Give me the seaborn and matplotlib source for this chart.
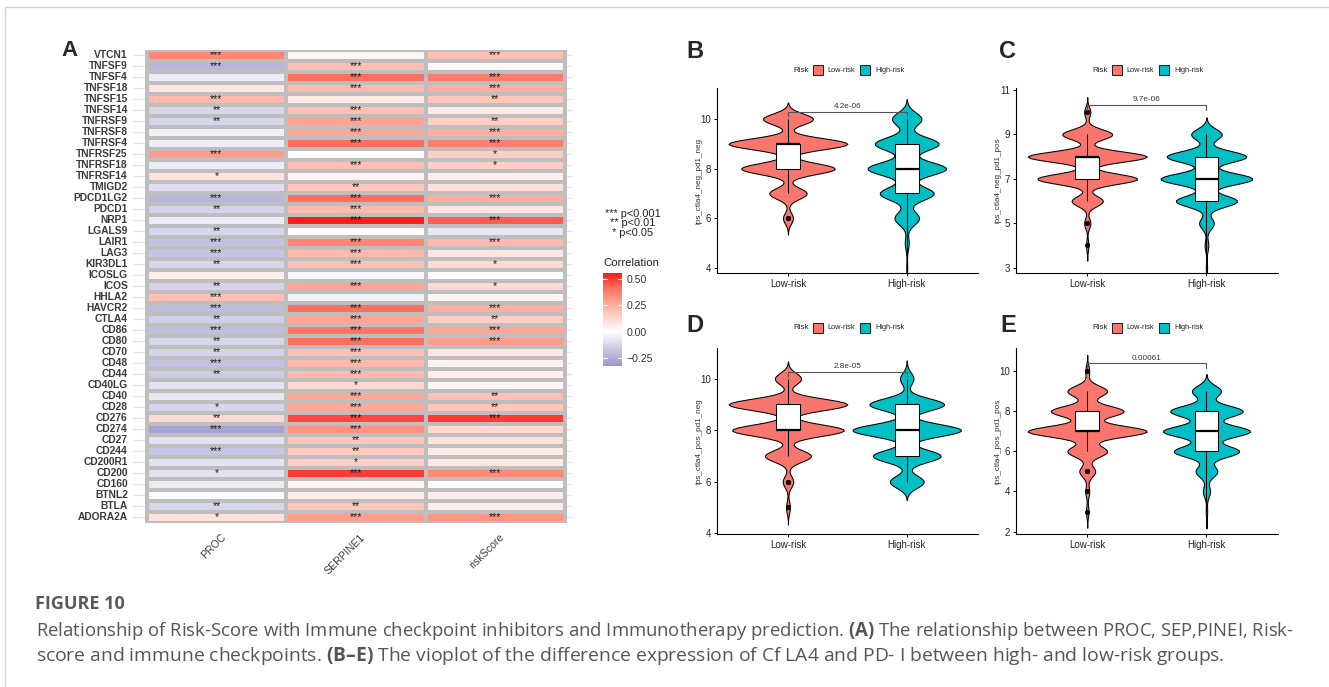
import numpy as np
import pandas as pd
import matplotlib
matplotlib.use("Agg")
import matplotlib.pyplot as plt
import matplotlib.transforms as mtransforms
from matplotlib.colors import LinearSegmentedColormap
from matplotlib.patches import Rectangle
from matplotlib.lines import Line2D
from matplotlib.ticker import FuncFormatter
import seaborn as sns

# ---------------- heatmap data (panel A) ----------------
genes = ["VTCN1", "TNFSF9", "TNFSF4", "TNFSF18", "TNFSF15", "TNFSF14", "TNFRSF9",
         "TNFRSF8", "TNFRSF4", "TNFRSF25", "TNFRSF18", "TNFRSF14", "TMIGD2", "PDCD1LG2",
         "PDCD1", "NRP1", "LGALS9", "LAIR1", "LAG3", "KIR3DL1", "ICOSLG", "ICOS", "HHLA2",
         "HAVCR2", "CTLA4", "CD86", "CD80", "CD70", "CD48", "CD44", "CD40LG", "CD40", "CD28",
         "CD276", "CD274", "CD27", "CD244", "CD200R1", "CD200", "CD160", "BTNL2", "BTLA",
         "ADORA2A"]
heat_cols = ["PROC", "SERPINE1", "riskScore"]
proc_r = [0.36, -0.22, -0.05, 0.08, 0.22, -0.12, -0.12, -0.04, -0.05, 0.30, -0.05, 0.10,
          -0.10, -0.22, -0.13, -0.05, -0.12, -0.18, -0.17, -0.12, 0.05, -0.13, 0.20, -0.20,
          -0.14, -0.19, -0.12, -0.13, -0.18, -0.15, -0.09, -0.07, -0.12, 0.12, -0.28, -0.09,
          -0.17, -0.08, -0.09, -0.06, -0.01, -0.12, 0.10]
serpine1_r = [0.03, 0.20, 0.42, 0.22, 0.07, 0.20, 0.28, 0.27, 0.42, 0.00, 0.20, 0.04,
              0.18, 0.42, 0.22, 0.55, 0.01, 0.36, 0.22, 0.20, -0.02, 0.28, -0.04, 0.42,
              0.28, 0.40, 0.42, 0.20, 0.22, 0.22, 0.12, 0.27, 0.27, 0.48, 0.33, 0.18,
              0.17, 0.15, 0.50, 0.03, 0.06, 0.18, 0.30]
riskscore_r = [0.20, 0.02, 0.38, 0.25, 0.18, 0.07, 0.15, 0.25, 0.38, 0.16, 0.15, 0.05,
               0.10, 0.25, 0.08, 0.45, -0.07, 0.22, 0.08, 0.12, 0.00, 0.12, 0.03, 0.25,
               0.15, 0.27, 0.30, 0.08, 0.04, 0.06, 0.03, 0.20, 0.18, 0.50, 0.12, 0.10,
               0.06, 0.08, 0.35, 0.01, 0.06, 0.06, 0.32]
proc_sig = ["***", "***", "", "", "***", "**", "**", "", "", "***", "", "*", "", "***",
            "**", "", "**", "***", "***", "**", "", "**", "***", "***", "**", "***", "**",
            "**", "***", "**", "", "", "*", "**", "***", "", "***", "", "*", "", "", "**", "*"]
serpine1_sig = ["", "***", "***", "***", "", "***", "***", "***", "***", "", "***", "",
                "**", "***", "***", "***", "", "***", "***", "***", "", "***", "", "***",
                "***", "***", "***", "***", "***", "***", "*", "***", "***", "***", "***",
                "**", "**", "*", "***", "", "", "**", "***"]
riskscore_sig = ["***", "", "***", "***", "**", "", "**", "***", "***", "*", "*", "", "",
                 "***", "", "***", "", "***", "", "*", "", "*", "", "***", "**", "***",
                 "***", "", "", "", "", "**", "**", "***", "", "", "", "", "***", "", "",
                 "", "***"]
corr_limits = [-0.323, 0.554]
cbar_ticks = [-0.25, 0.0, 0.25, 0.50]
sig_legend = ["*** p<0.001", "** p<0.01", "* p<0.05"]

# ---------------- violin data (panels B-E): counts of integer IPS scores ----------------
groups = ["Low-risk", "High-risk"]
b_levels = [4, 5, 6, 7, 8, 9, 10]
b_low = [0, 0, 8, 30, 75, 95, 40]
b_high = [1, 4, 25, 55, 80, 65, 30]
c_levels = [3, 4, 5, 6, 7, 8, 9, 10]
c_low = [0, 2, 5, 25, 80, 95, 40, 5]
c_high = [1, 3, 12, 50, 75, 65, 25, 0]
d_levels = [5, 6, 7, 8, 9, 10]
d_low = [3, 8, 35, 85, 90, 20]
d_high = [0, 25, 50, 80, 55, 10]
e_levels = [3, 4, 5, 6, 7, 8, 9, 10]
e_low = [2, 3, 12, 30, 90, 55, 30, 3]
e_high = [1, 5, 15, 45, 60, 50, 20, 0]
panel_letters = ["B", "C", "D", "E"]
panel_ylabels = ["ips_ctla4_neg_pd1_neg", "ips_ctla4_neg_pd1_pos",
                 "ips_ctla4_pos_pd1_neg", "ips_ctla4_pos_pd1_pos"]
panel_pvalues = ["4.2e-06", "9.7e-06", "2.8e-05", "0.00061"]
panel_yticks = [[4, 6, 8, 10], [3, 5, 7, 9, 11], [4, 6, 8, 10], [2, 4, 6, 8, 10]]
panel_ylims = [(3.79, 11.25), (2.76, 11.09), (3.97, 11.19), (1.88, 11.15)]
bracket_y = [10.30, 10.32, 10.26, 10.38]

caption_title = "FIGURE 10"
caption_line1 = ("Relationship of Risk-Score with Immune checkpoint inhibitors and Immunotherapy "
                 "prediction. $\\bf{(A)}$ The relationship between PROC, SEP,PINEI, Risk-")
caption_line2 = ("score and immune checkpoints. $\\bf{(B\u2013E)}$ The vioplot of the difference "
                 "expression of Cf LA4 and PD- I between high- and low-risk groups.")

# ---------------- figure setup ----------------
W, H = 1329, 687
sns.set_theme(style="white")
plt.rcParams["font.family"] = ["Liberation Sans", "DejaVu Sans"]
plt.rcParams["mathtext.fontset"] = "custom"
plt.rcParams["mathtext.rm"] = "Open Sans"
plt.rcParams["mathtext.bf"] = "Open Sans:bold"

fig = plt.figure(figsize=(W / 100, H / 100), dpi=100)
fig.patch.set_facecolor("white")


def frect(x0, y0, x1, y1):
    return [x0 / W, 1 - y1 / H, (x1 - x0) / W, (y1 - y0) / H]


def fx(x):
    return x / W


def fy(y):
    return 1 - y / H


# page frame lines
fig.add_artist(Line2D([fx(5), 1], [fy(7), fy(7)], transform=fig.transFigure, color="#D6D6D6", lw=1))
fig.add_artist(Line2D([fx(5), fx(5)], [fy(7), 0], transform=fig.transFigure, color="#D6D6D6", lw=1))

# ---------------- panel A heatmap ----------------
corr = pd.DataFrame({"PROC": proc_r, "SERPINE1": serpine1_r, "riskScore": riskscore_r}, index=genes)
stars = np.array([proc_sig, serpine1_sig, riskscore_sig], dtype=object).T
vmin, vmax = corr_limits
stop_vals = [vmin, -0.16, 0.0, 0.14, 0.28, 0.42, vmax]
stop_cols = ["#9B95CC", "#CBC8E5", "#FFFFFF", "#FFD3CB", "#FFA595", "#FF6E5E", "#FF1A1A"]
cmap = LinearSegmentedColormap.from_list(
    "corr", [((v - vmin) / (vmax - vmin), c) for v, c in zip(stop_vals, stop_cols)])

ax_h = fig.add_axes(frect(132.8, 50, 572, 522.7))
cax = fig.add_axes(frect(602.7, 273.3, 621.7, 366))
sns.heatmap(corr, ax=ax_h, cmap=cmap, vmin=vmin, vmax=vmax, annot=stars, fmt="",
            annot_kws=dict(fontsize=7.6, color="#1A1A1A"), linewidths=1.6, linecolor="#BEBEBE",
            cbar_ax=cax, cbar_kws=dict(ticks=cbar_ticks), xticklabels=True, yticklabels=True)
n = len(genes)
ax_h.set_xlim(-0.1, 3.05)
ax_h.set_ylim(n, 0)
for i in range(n):
    ax_h.axhline(i + 0.5, color="#E4E4E4", lw=0.9, zorder=0)
ax_h.add_patch(Rectangle((0, 0), 3, n, fill=False, ec="#BEBEBE", lw=2.2, zorder=3))
ax_h.set_xlabel("")
ax_h.set_ylabel("")
ax_h.tick_params(axis="both", length=0)
ax_h.tick_params(axis="y", pad=3.6)
ax_h.set_yticklabels(genes, rotation=0, fontsize=7.4, fontweight="bold", color="#3A3A3A")
ax_h.set_xticklabels(heat_cols, rotation=45, ha="right", va="top", rotation_mode="anchor",
                     fontsize=7.6, color="#3A3A3A")
ax_h.tick_params(axis="x", pad=7)
for lab in ax_h.get_xticklabels():
    lab.set_transform(lab.get_transform() + mtransforms.ScaledTranslation(4 / 100, 0, fig.dpi_scale_trans))

cb = ax_h.collections[0].colorbar
cb.outline.set_visible(False)
cax.tick_params(length=0, pad=3.6, labelsize=7.6, colors="#333333")
cax.yaxis.set_major_formatter(FuncFormatter(lambda v, p: f"{v:.2f}".replace("-", "\u2212")))
for t in cbar_ticks:
    cax.axhline(t, xmin=0, xmax=0.2, color="white", lw=0.8)
    cax.axhline(t, xmin=0.8, xmax=1, color="white", lw=0.8)
fig.text(fx(603), fy(263), "Correlation", fontsize=8.2, color="#222222", ha="left", va="center")
fig.text(fx(633), fy(223.5), "\n".join(sig_legend), fontsize=7.9, color="#222222", ha="center",
         va="center", multialignment="center", linespacing=0.95)
fig.text(fx(70), fy(51), "A", fontsize=16, fontweight="bold", ha="center", va="center")

# ---------------- panels B-E violins ----------------
risk_colors = {"Low-risk": "#F8766D", "High-risk": "#00BFC4"}
panel_boxes = [(716.7, 88, 978, 273), (1015.7, 88, 1278, 273),
               (716.7, 348, 978, 534), (1015.7, 348, 1278, 534)]
letter_pos = [(695, 51), (1008, 51), (695, 325), (1008, 325)]
legend_y = [70, 70, 328, 328]
levels_all = [b_levels, c_levels, d_levels, e_levels]
low_all = [b_low, c_low, d_low, e_low]
high_all = [b_high, c_high, d_high, e_high]

for k in range(4):
    box = panel_boxes[k]
    ax = fig.add_axes(frect(*box))
    lv, lo, hi = levels_all[k], low_all[k], high_all[k]
    df = pd.DataFrame({
        "Risk": np.repeat(groups, [sum(lo), sum(hi)]),
        "score": np.concatenate([np.repeat(lv, lo), np.repeat(lv, hi)]).astype(float),
    })
    sns.violinplot(data=df, x="Risk", y="score", hue="Risk", order=groups, hue_order=groups,
                   palette=risk_colors, inner=None, cut=3, bw_adjust=0.66, width=1.0,
                   density_norm="area", common_norm=True,
                   linewidth=0.75, linecolor="black", saturation=1, legend=False, ax=ax)
    sns.boxplot(data=df, x="Risk", y="score", order=groups, width=0.2, color="white",
                linecolor="black", linewidth=0.75, saturation=1, fliersize=2.4,
                flierprops=dict(marker="o", markerfacecolor="black", markeredgecolor="black"),
                medianprops=dict(linewidth=1.6), capprops=dict(linewidth=0), ax=ax)
    ylo, yhi = panel_ylims[k]
    ax.set_xlim(-0.6, 1.6)
    ax.set_ylim(ylo, yhi)
    ax.set_yticks(panel_yticks[k])
    tip = 0.025 * (yhi - ylo)
    top = bracket_y[k]
    ax.plot([0, 0, 1, 1], [top - tip, top, top, top - tip], color="#555555", lw=0.8)
    ax.text(0.5, top + 0.01 * (yhi - ylo), panel_pvalues[k], ha="center", va="bottom",
            fontsize=5.9, color="#333333")
    for s in ["top", "right"]:
        ax.spines[s].set_visible(False)
    for s in ["left", "bottom"]:
        ax.spines[s].set_color("black")
        ax.spines[s].set_linewidth(0.8)
    ax.tick_params(axis="both", direction="out", length=2.5, width=0.7, color="black",
                   labelcolor="#222222", labelsize=7, pad=1.5, left=True, bottom=True)
    ax.set_xlabel("")
    ax.set_ylabel(panel_ylabels[k], fontsize=5.9, color="#333333")
    ax.yaxis.set_label_coords(-0.056, 0.5)
    ax.set_facecolor("white")

    # legend (Risk: Low-risk / High-risk)
    cx = (box[0] + box[2]) / 2
    ly = legend_y[k]
    fig.text(fx(cx - 54.4), fy(ly), "Risk", fontsize=5.8, color="#222222", ha="left", va="center")
    for off, g, toff in [(-34.4, "Low-risk", -20.4), (12.6, "High-risk", 27.6)]:
        fig.add_artist(Rectangle((fx(cx + off), fy(ly + 5)), 10 / W, 10 / H, transform=fig.transFigure,
                                 fc=risk_colors[g], ec="black", lw=0.6))
        fig.text(fx(cx + toff), fy(ly), g, fontsize=5.3, color="#222222", ha="left", va="center")
    lx, lyy = letter_pos[k]
    fig.text(fx(lx), fy(lyy), panel_letters[k], fontsize=17, fontweight="bold", ha="center", va="center")

# ---------------- caption ----------------
fig.text(fx(35), fy(604), caption_title, fontsize=13, fontweight="bold", family="Open Sans",
         color="#5A5A5A", ha="left", va="center")
t1 = fig.text(fx(36), fy(631), caption_line1, fontsize=10, family="Open Sans", color="#555555",
              ha="left", va="center")
t2 = fig.text(fx(36), fy(656), caption_line2, fontsize=10, family="Open Sans", color="#555555",
              ha="left", va="center")
fig.canvas.draw()
t1.set_fontsize(10 * 1258 / t1.get_window_extent().width)
t2.set_fontsize(10 * 1188 / t2.get_window_extent().width)

fig.savefig("out.png", dpi=100, facecolor="white")
